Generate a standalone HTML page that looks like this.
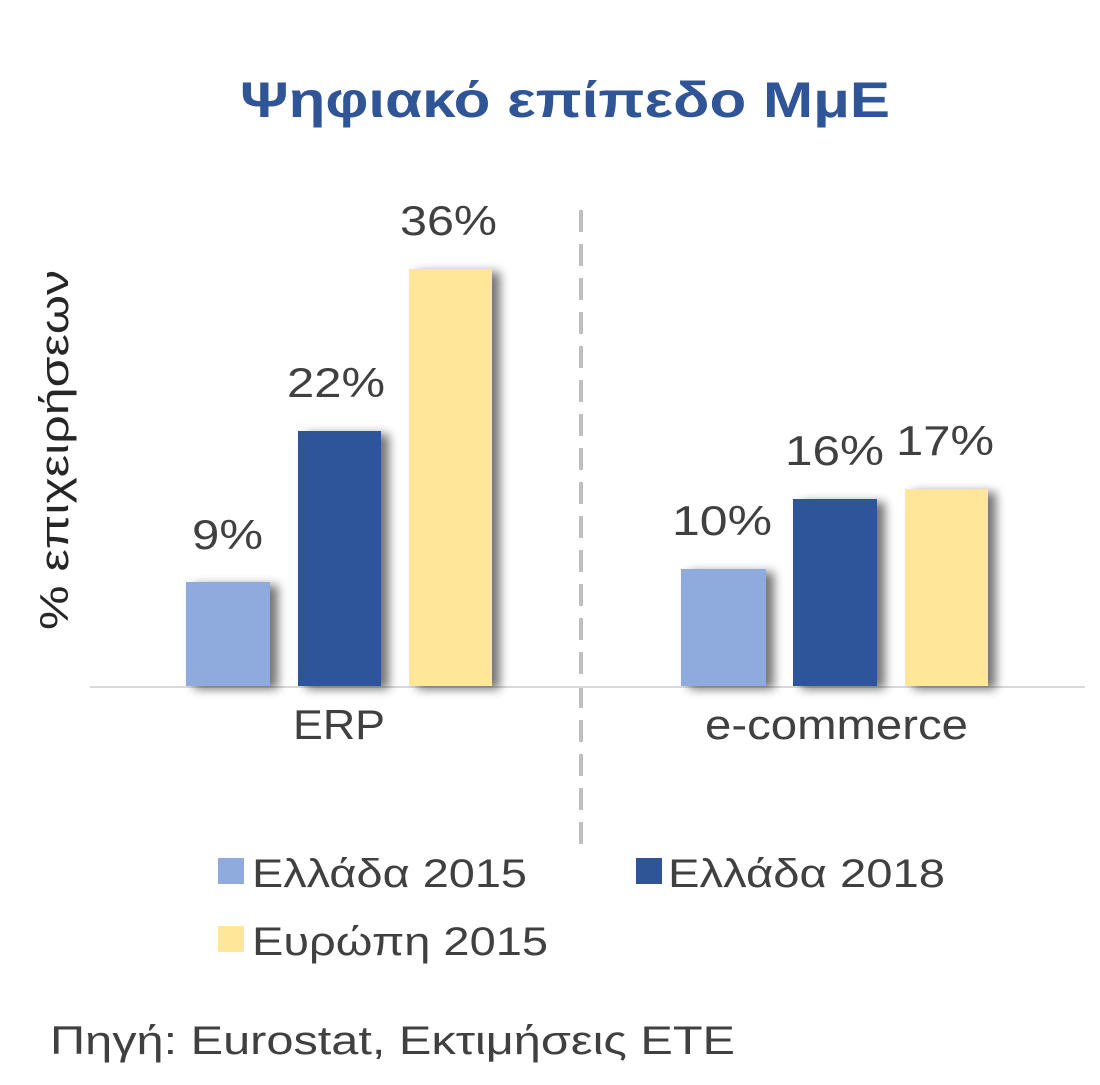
<!DOCTYPE html>
<html><head><meta charset="utf-8"><style>
body{margin:0;width:1100px;height:1080px;background:#fff;overflow:hidden}
</style></head><body>
<svg width="1100" height="1080" xmlns="http://www.w3.org/2000/svg" font-family="Liberation Sans, sans-serif">
<defs><filter id="sh" x="-20%" y="-10%" width="160%" height="130%"><feGaussianBlur in="SourceAlpha" stdDeviation="5"/><feOffset dx="8" dy="3"/><feComponentTransfer><feFuncA type="linear" slope="0.55"/></feComponentTransfer><feMerge><feMergeNode/><feMergeNode in="SourceGraphic"/></feMerge></filter></defs>
<text x="240" y="117" font-size="50" font-weight="bold" fill="#2F5597" textLength="650" lengthAdjust="spacingAndGlyphs">Ψηφιακό επίπεδο ΜμΕ</text>
<text transform="translate(68,630) rotate(-90)" font-size="40" fill="#262626" textLength="360" lengthAdjust="spacingAndGlyphs">% επιχειρήσεων</text>
<line x1="581" y1="210" x2="581" y2="850" stroke="#bfbfbf" stroke-width="4" stroke-dasharray="22,12"/>
<line x1="90" y1="687" x2="1085" y2="687" stroke="#d9d9d9" stroke-width="2"/>
<g filter="url(#sh)">
<rect x="186" y="582" width="84" height="104" fill="#8FAADC"/>
<rect x="298" y="431" width="83" height="255" fill="#2F5597"/>
<rect x="409" y="269" width="83" height="417" fill="#FFE699"/>
<rect x="681" y="569" width="85" height="117" fill="#8FAADC"/>
<rect x="793" y="499" width="84" height="187" fill="#2F5597"/>
<rect x="905" y="489" width="83" height="197" fill="#FFE699"/>
</g>
<g font-size="42" fill="#404040" lengthAdjust="spacingAndGlyphs">
<text x="192" y="549" textLength="71" lengthAdjust="spacingAndGlyphs">9%</text>
<text x="287" y="397" textLength="98" lengthAdjust="spacingAndGlyphs">22%</text>
<text x="400" y="235" textLength="97" lengthAdjust="spacingAndGlyphs">36%</text>
<text x="672" y="535" textLength="100" lengthAdjust="spacingAndGlyphs">10%</text>
<text x="785" y="465" textLength="99" lengthAdjust="spacingAndGlyphs">16%</text>
<text x="896" y="455" textLength="98" lengthAdjust="spacingAndGlyphs">17%</text>
<text x="293" y="739" textLength="92" lengthAdjust="spacingAndGlyphs">ERP</text>
<text x="705" y="739" textLength="263" lengthAdjust="spacingAndGlyphs">e-commerce</text>
</g>
<g font-size="40" fill="#404040">
<rect x="218" y="858" width="26" height="26" fill="#8FAADC"/><text x="252" y="887" textLength="275" lengthAdjust="spacingAndGlyphs">Ελλάδα 2015</text>
<rect x="636" y="858" width="26" height="26" fill="#2F5597"/><text x="668" y="887" textLength="277" lengthAdjust="spacingAndGlyphs">Ελλάδα 2018</text>
<rect x="218" y="926" width="26" height="26" fill="#FFE699"/><text x="252" y="955" textLength="296" lengthAdjust="spacingAndGlyphs">Ευρώπη 2015</text>
<text x="50" y="1054" textLength="685" lengthAdjust="spacingAndGlyphs">Πηγή: Eurostat, Εκτιμήσεις ΕΤΕ</text>
</g>
</svg>
</body></html>
